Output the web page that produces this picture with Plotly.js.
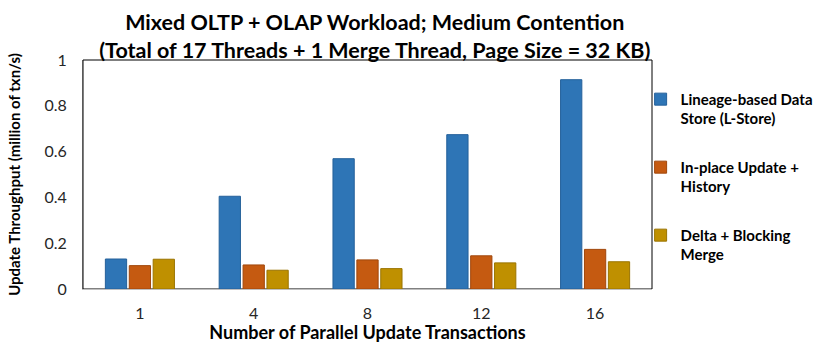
<!DOCTYPE html>
<html>
<head>
<meta charset="utf-8">
<script src="https://cdn.plot.ly/plotly-3.0.1.min.js"></script>
<style>
  html, body { margin: 0; padding: 0; background: #fff; }
  #chart { width: 831px; height: 343px; }
</style>
</head>
<body>
<div id="chart"></div>
<script>
// Number of parallel update transactions (x categories)
const categories = ['1', '4', '8', '12', '16'];

// Update throughput, million txn/s
const lstoreValues  = [0.131, 0.405, 0.569, 0.674, 0.914];
const inplaceValues = [0.102, 0.105, 0.127, 0.145, 0.173];
const deltaValues   = [0.130, 0.082, 0.089, 0.114, 0.119];

const seriesNames = [
    '<b>Lineage-based Data<br>Store (L-Store)</b>',
    '<b>In-place Update +<br>History</b>',
    '<b>Delta + Blocking<br>Merge</b>'
];
const yTicks = [0, 0.2, 0.4, 0.6, 0.8, 1];
const yTickText = ['0', '0.2', '0.4', '0.6', '0.8', '1'];

const FONT = 'Lato, "Open Sans", sans-serif';

function barTrace(name, values, fill, edge, group) {
    return {
        type: 'bar',
        name: name,
        x: categories,
        y: values,
        legendgroup: group,
        marker: { color: fill, line: { color: edge, width: 1 } },
        hoverinfo: 'x+y'
    };
}

const traces = [
    barTrace(seriesNames[0], lstoreValues, '#2E75B6', '#24609a', 'a'),
    barTrace(seriesNames[1], inplaceValues, '#C55A11', '#a0470c', 'b'),
    barTrace(seriesNames[2], deltaValues, '#BF9000', '#9a7400', 'c')
];

const layout = {
    width: 831,
    height: 343,
    margin: { l: 83, r: 179, t: 60, b: 54 },
    paper_bgcolor: '#fff',
    plot_bgcolor: '#fff',
    font: { family: FONT, color: '#262626', size: 16 },
    title: {
        text: '<b>Mixed OLTP + OLAP Workload; Medium Contention<br>(Total of 17 Threads + 1 Merge Thread, Page Size = 32 KB)</b>',
        font: { family: FONT, size: 21.5, color: '#000' },
        xref: 'container',
        x: 0.451,
        xanchor: 'center',
        yref: 'container',
        y: 0.912,
        yanchor: 'middle'
    },
    barmode: 'group',
    bargap: 0.37,
    bargroupgap: 0.11,
    xaxis: {
        type: 'category',
        showgrid: false,
        zeroline: false,
        showline: true,
        linecolor: '#bfbfbf',
        linewidth: 1,
        ticks: '',
        ticklabelstandoff: 10,
        tickfont: { family: FONT, size: 16, color: '#262626' },
        title: {
            text: '<b>Number of Parallel Update Transactions</b>',
            font: { family: FONT, size: 18, color: '#000' },
            standoff: 10
        }
    },
    yaxis: {
        range: [0, 1],
        tickvals: yTicks,
        ticktext: yTickText,
        showgrid: false,
        zeroline: false,
        showline: true,
        linecolor: '#595959',
        linewidth: 1,
        ticks: '',
        ticklabelstandoff: 12,
        tickfont: { family: FONT, size: 16, color: '#262626' },
        title: {
            text: '<b>Update Throughput (million of txn/s)</b>',
            font: { family: FONT, size: 15, color: '#000' },
            standoff: 20
        }
    },
    shapes: [{
        type: 'rect',
        xref: 'paper', yref: 'paper',
        x0: 0, x1: 1, y0: 0, y1: 1,
        line: { color: '#000', width: 1 },
        layer: 'below'
    }],
    showlegend: true,
    legend: {
        x: 0.98,
        xanchor: 'left',
        y: 0.9,
        yanchor: 'top',
        valign: 'top',
        tracegroupgap: 26,
        font: { family: FONT, size: 15, color: '#000' },
        bgcolor: 'rgba(0,0,0,0)'
    }
};

Plotly.newPlot('chart', traces, layout, { displayModeBar: false, staticPlot: true });
</script>
</body>
</html>
